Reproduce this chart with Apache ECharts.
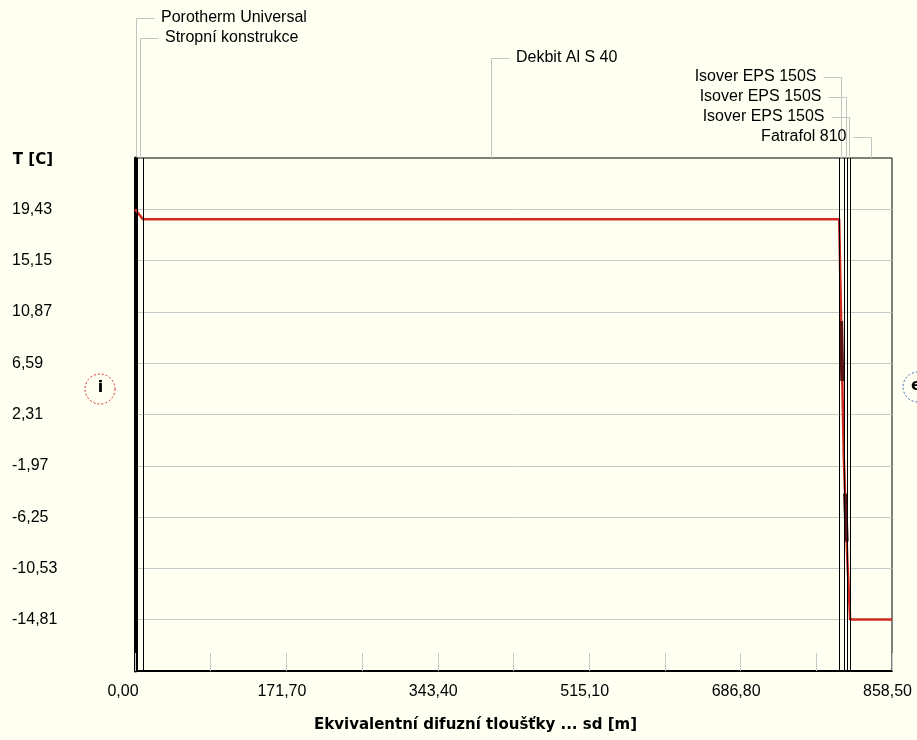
<!DOCTYPE html>
<html>
<head>
<meta charset="utf-8">
<script src="https://cdn.jsdelivr.net/npm/echarts@6/dist/echarts.min.js"></script>
<style>
html,body{margin:0;padding:0;background:#fffff2;}
#c{width:917px;height:740px;}
</style>
</head>
<body>
<div id="c"></div>
<script>
// ---- data ----
const layerNames = ['Porotherm Universal', 'Stropní konstrukce', 'Dekbit Al S 40', 'Isover EPS 150S', 'Isover EPS 150S', 'Isover EPS 150S', 'Fatrafol 810'];
const layerBounds = [0, 2.5, 9.0, 798.6, 803.8, 807.9, 811.0, 858.5];
const profileSd = [0, 2.5, 9.0, 798.6, 803.8, 807.9, 811.0, 858.5];
const profileT = [19.43, 19.2, 18.6, 18.6, -1.2, -9.9, -14.8, -14.8];
const darkSegSd = [[800.8, 802.1], [805.3, 807.1]];
const darkSegT = [[10.1, 5.1], [-4.3, -8.3]];
const yTicks = [-14.81, -10.53, -6.25, -1.97, 2.31, 6.59, 10.87, 15.15, 19.43];
const yMin = -19.09, yMax = 23.71;
const xMin = 0, xMax = 858.5, xInterval = 85.85;
const xTitle = 'Ekvivalentní difuzní tloušťky ... sd [m]';
const yTitle = 'T [C]';

const fontFamily = '"Liberation Sans", Arial, sans-serif';
const boldFamily = '"DejaVu Sans", "Liberation Sans", sans-serif';
const fmt = v => v.toFixed(2).replace('.', ',');

const chart = echarts.init(document.getElementById('c'), null, {renderer: 'canvas'});

const series = [
  {
    type: 'line', data: [], z: 2, silent: true,
    markLine: {
      silent: true, symbol: ['none', 'none'], animation: false,
      label: {show: false},
      lineStyle: {color: '#000', width: 1, type: 'solid'},
      emphasis: {disabled: true},
      data: layerBounds.slice(1, -1).map(v => ({xAxis: v}))
    }
  },
  {
    type: 'line', z: 3, silent: true, showSymbol: false,
    data: profileSd.map((x, i) => [x, profileT[i]]),
    lineStyle: {color: '#d12b1f', width: 2.5}
  }
];
darkSegSd.forEach((seg, k) => {
  series.push({
    type: 'line', z: 4, silent: true, showSymbol: false,
    data: seg.map((x, i) => [x, darkSegT[k][i]]),
    lineStyle: {color: '#5a1510', width: 4}
  });
});

chart.setOption({
  animation: false,
  backgroundColor: '#fffff2',
  grid: {left: 135, right: 25, top: 158, bottom: 69, show: true, borderColor: '#000', borderWidth: 1, outerBoundsMode: 'none'},
  xAxis: {
    type: 'value', min: xMin, max: xMax, interval: xInterval,
    axisLine: {show: true, onZero: false, lineStyle: {color: '#000', width: 2}},
    axisTick: {show: true, inside: true, length: 18, lineStyle: {color: '#c8c8c8', width: 1}},
    splitLine: {show: false},
    axisLabel: {
      color: '#000', fontSize: 16, fontFamily: fontFamily, margin: 13,
      padding: [0, 9, 0, 0],
      formatter: (v, i) => (i % 2 ? '' : (i === 0 ? '{m|' + fmt(v) + '}' : fmt(v))),
      rich: {m: {color: '#000', fontSize: 16, fontFamily: fontFamily, padding: [0, 15, 0, 0]}}
    },
    name: xTitle, nameLocation: 'middle', nameGap: 47,
    nameTextStyle: {color: '#000', fontSize: 15, fontWeight: 'bold', fontFamily: boldFamily, padding: [0, 76, 0, 0]}
  },
  yAxis: {
    type: 'value', min: yMin, max: yMax,
    axisLine: {show: true, onZero: false, lineStyle: {color: '#000', width: 3}},
    axisTick: {show: false, customValues: yTicks},
    axisLabel: {
      customValues: yTicks, color: '#000', fontSize: 16, fontFamily: fontFamily,
      align: 'left', margin: 123, formatter: v => fmt(v)
    },
    splitLine: {show: true, lineStyle: {color: '#c8c8c8', width: 1}},
    name: yTitle, nameLocation: 'end', nameGap: -2,
    nameTextStyle: {color: '#000', fontSize: 15, fontWeight: 'bold', fontFamily: boldFamily, align: 'right', verticalAlign: 'middle', padding: [0, 82, 0, 0]}
  },
  series: series
});

// ---- annotations: layer labels with leader lines ----
const plotTop = Math.round(chart.convertToPixel({gridIndex: 0}, [xMin, yMax])[1]);
const plotMidX = (chart.convertToPixel({gridIndex: 0}, [xMin, 0])[0] + chart.convertToPixel({gridIndex: 0}, [xMax, 0])[0]) / 2;
const graphics = [];
layerNames.forEach((name, i) => {
  const c = (layerBounds[i] + layerBounds[i + 1]) / 2;
  const cx = Math.round(chart.convertToPixel({gridIndex: 0}, [c, 0])[0]) + 0.5;
  const rowY = Math.round(18 + i * 19.8) + 0.5;
  const toRight = cx < plotMidX;
  const ex = toRight ? cx + 18 : cx - 18;
  graphics.push({
    type: 'polyline', silent: true,
    shape: {points: [[ex, rowY], [cx, rowY], [cx, plotTop]]},
    style: {stroke: '#c4c4c4', lineWidth: 1, fill: null}
  });
  graphics.push({
    type: 'text', silent: true,
    x: toRight ? ex + 6.5 : ex - 7, y: rowY - 1,
    style: {text: name, fill: '#000', font: '16px ' + fontFamily, align: toRight ? 'left' : 'right', verticalAlign: 'middle'}
  });
});
// interior / exterior markers
graphics.push({
  type: 'circle', silent: true, shape: {cx: 100, cy: 389, r: 15},
  style: {fill: null, stroke: '#d12b1f', lineWidth: 1, lineDash: [2, 2]}
});
graphics.push({
  type: 'text', silent: true, x: 100.5, y: 388,
  style: {text: 'i', fill: '#000', font: 'bold 16px ' + boldFamily, align: 'center', verticalAlign: 'middle'}
});
graphics.push({
  type: 'circle', silent: true, shape: {cx: 918, cy: 387, r: 15},
  style: {fill: null, stroke: '#3a62c4', lineWidth: 1, lineDash: [2, 2]}
});
graphics.push({
  type: 'text', silent: true, x: 916.5, y: 386,
  style: {text: 'e', fill: '#000', font: 'bold 16px ' + boldFamily, align: 'center', verticalAlign: 'middle'}
});
chart.setOption({graphic: graphics});
</script>
</body>
</html>
